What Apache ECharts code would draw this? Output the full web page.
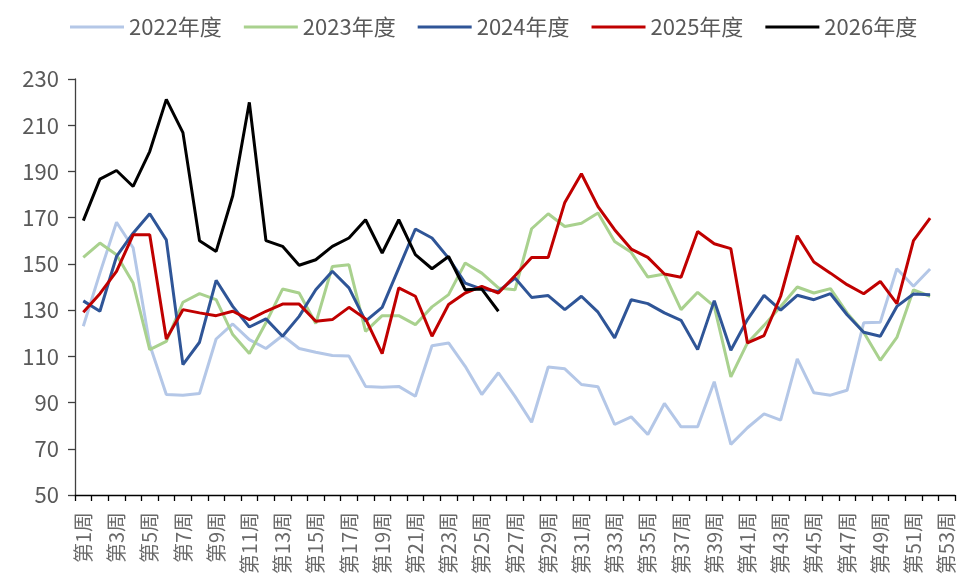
<!DOCTYPE html>
<html>
<head>
<meta charset="utf-8">
<script src="https://cdn.jsdelivr.net/npm/echarts@6/dist/echarts.min.js"></script>
<style>
  html, body { margin: 0; padding: 0; background: #fff; }
  #chart { width: 958px; height: 579px; }
</style>
</head>
<body>
<div id="chart"></div>
<script>
// 周次
let weeks = Array.from({ length: 53 }, (v, i) => '第' + (i + 1) + '周');

let names = ['2022年度', '2023年度', '2024年度', '2025年度', '2026年度'];
let colors = ['#B4C7E7', '#A9D18E', '#2F5597', '#C00000', '#000000'];

let y2022 = [123, 146, 168, 157, 115, 93.5, 93.2, 93.9, 117.5, 124, 117.2, 113.4, 119, 113.4, 111.8, 110.4, 110.1, 97, 96.6, 97, 92.7, 114.6, 115.8, 105.7, 93.5, 102.9,
  92.7, 81.5, 105.4, 104.6, 97.8, 96.8, 80.5, 83.8, 76.2, 89.6, 79.5, 79.5, 99, 71.9, 79.1, 85.1, 82.4, 108.9, 94.2, 93.2, 95.3, 124.5, 124.8, 147.9, 140.3, 147.8];
let y2023 = [152.8, 159, 154, 141.7, 112.9, 116.5, 133.4, 137.1, 134.5, 119.4, 111.2, 124.5, 139.1, 137.4, 124.2, 148.9, 149.6, 120.8, 127.6, 127.6, 123.7, 131.4, 136.7, 150.4, 146, 139.6,
  138.8, 165.2, 171.7, 166.2, 167.6, 172, 159.7, 155, 144.3, 145.6, 130.2, 137.7, 131.6, 101.1, 115.8, 123.4, 131.6, 140, 137.4, 139.3, 128.8, 120.4, 108.3, 118.2, 138.8, 136];
let y2024 = [134, 129.5, 153.2, 163.3, 171.7, 160.4, 106.4, 116.1, 142.9, 131.6, 122.7, 126.2, 118.7, 127.3, 138.8, 146.8, 139.6, 125.2, 131.2, 148.2, 165.1, 161.2, 152.5, 141.7, 139.1, 138.1,
  143.9, 135.5, 136.3, 130.2, 136, 129.1, 118, 134.5, 132.8, 128.8, 125.6, 112.9, 134.1, 112.6, 125.9, 136.4, 130, 136.4, 134.5, 137.1, 128, 120.4, 118.7, 131.6, 137, 136.7];
let y2025 = [129.1, 137.1, 146.8, 162.6, 162.6, 117.5, 130.2, 128.8, 127.6, 129.5, 125.9, 129.5, 132.6, 132.6, 125.2, 125.9, 131.2, 126.2, 111.2, 139.6, 136, 118.7, 132.4, 137.4, 140.3, 137.4,
  144.9, 152.8, 152.8, 176.6, 189, 174.8, 164.8, 156.4, 152.8, 145.6, 144.2, 164, 158.7, 156.6, 115.8, 119, 136, 162.2, 150.8, 146, 141, 137.1, 142.4, 132.8, 160.1, 169.8];
let y2026 = [168.7, 186.7, 190.4, 183.5, 198.6, 221.2, 206.8, 160, 155.4, 179.5, 219.9, 160.1, 157.6, 149.4, 151.8, 157.6, 161.2, 169.1, 154.7, 169.1, 154, 147.9, 153.2, 138.8, 139.1, 129.5];

let seriesData = [y2022, y2023, y2024, y2025, y2026];

let labelFont = "'Noto Sans CJK SC', 'Noto Sans', sans-serif";

var myChart = echarts.init(document.getElementById('chart'));
var options = {
  animation: false,
  color: colors,
  legend: {
    top: 11,
    left: 65,
    icon: 'rect',
    itemWidth: 54,
    itemHeight: 3,
    itemGap: 22,
    textStyle: { fontSize: 22, color: '#595959', fontFamily: labelFont },
    data: names
  },
  grid: { left: 75, right: 3, top: 79, bottom: 84, containLabel: false },
  xAxis: {
    type: 'category',
    data: weeks,
    boundaryGap: true,
    axisLine: { lineStyle: { color: '#000', width: 1.3 } },
    axisTick: { show: true, alignWithLabel: false, interval: 0, length: 6, lineStyle: { color: '#000', width: 1.3 } },
    axisLabel: { interval: 1, rotate: 90, margin: 17, fontSize: 20, color: '#6a6a6a', fontFamily: labelFont }
  },
  yAxis: {
    type: 'value',
    min: 50,
    max: 230,
    interval: 20,
    splitLine: { show: false },
    axisLine: { show: true, lineStyle: { color: '#404040', width: 1.3 } },
    axisTick: { show: true, length: 7, lineStyle: { color: '#404040', width: 1.3 } },
    axisLabel: { fontSize: 22, color: '#595959', margin: 16, fontFamily: labelFont }
  },
  series: names.map((n, i) => ({
    name: n,
    type: 'line',
    data: seriesData[i],
    symbol: 'none',
    lineStyle: { width: 3, color: colors[i] },
    z: 2 + i
  }))
};
myChart.setOption(options);
</script>
</body>
</html>
